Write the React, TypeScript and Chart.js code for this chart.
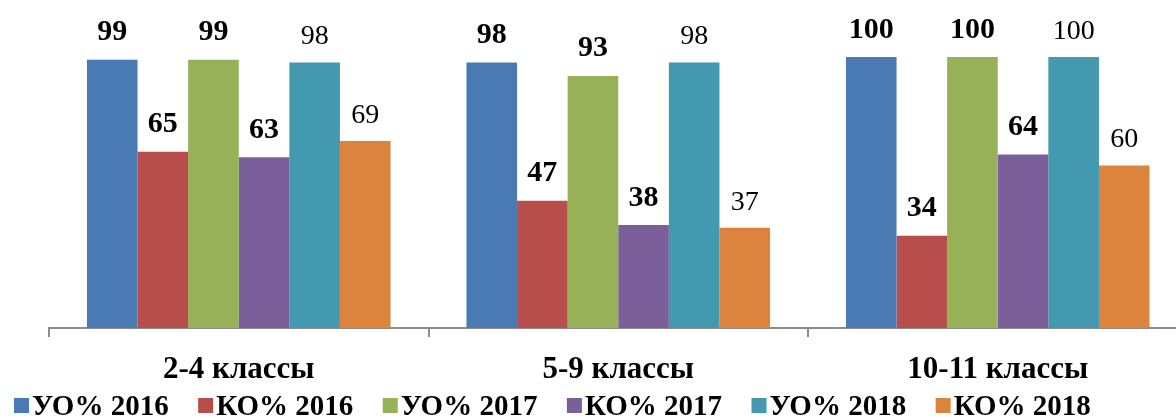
import React, { useEffect, useRef } from "react";
import { Chart, registerables } from "chart.js";

Chart.register(...registerables);

const categories = ["2-4 классы", "5-9 классы", "10-11 классы"];
const seriesNames = ["УО% 2016", "КО% 2016", "УО% 2017", "КО% 2017", "УО% 2018", "КО% 2018"];
const uo2016 = [99, 98, 100];
const ko2016 = [65, 47, 34];
const uo2017 = [99, 93, 100];
const ko2017 = [63, 38, 64];
const uo2018 = [98, 98, 100];
const ko2018 = [69, 37, 60];
const seriesValues = [uo2016, ko2016, uo2017, ko2017, uo2018, ko2018];
const seriesColors = ["#4A7AB4", "#B84E4B", "#96B157", "#7B5F9A", "#4299B0", "#DC833E"];
const boldLabels = [true, true, true, true, false, false];

const FONT = "'Liberation Serif', 'Times New Roman', serif";

const valueLabels = {
  id: "valueLabels",
  afterDatasetsDraw(chart: any) {
    const ctx = chart.ctx;
    chart.data.datasets.forEach((ds: any, i: number) => {
      const meta = chart.getDatasetMeta(i);
      const bold = boldLabels[i];
      ctx.save();
      ctx.font = bold ? `bold 30px ${FONT}` : `28px ${FONT}`;
      ctx.fillStyle = "#000";
      ctx.textAlign = "center";
      ctx.textBaseline = "alphabetic";
      meta.data.forEach((el: any, j: number) => {
        ctx.fillText(String(ds.data[j]), el.x, el.y - (bold ? 19.5 : 18));
      });
      ctx.restore();
    });
  },
};

const customLegend = {
  id: "customLegend",
  afterDraw(chart: any) {
    const ctx = chart.ctx;
    ctx.save();
    ctx.font = `bold 29px ${FONT}`;
    ctx.textAlign = "left";
    ctx.textBaseline = "alphabetic";
    let x = 14;
    const boxTop = 398;
    const box = 15;
    const baseline = 415;
    chart.data.datasets.forEach((ds: any) => {
      ctx.fillStyle = ds.backgroundColor;
      ctx.fillRect(x, boxTop, box, box);
      x += box + 3;
      ctx.fillStyle = "#000";
      ctx.fillText(ds.label, x, baseline);
      x += ctx.measureText(ds.label).width + 29.5;
    });
    ctx.restore();
  },
};

export default function App() {
  const canvasRef = useRef<HTMLCanvasElement | null>(null);

  useEffect(() => {
    const canvas = canvasRef.current;
    if (!canvas) return;
    const chart = new Chart(canvas, {
      type: "bar",
      data: {
        labels: categories,
        datasets: seriesNames.map((name, i) => ({
          label: name,
          data: seriesValues[i],
          backgroundColor: seriesColors[i],
          borderWidth: 0,
          categoryPercentage: 0.8,
          barPercentage: 1.0,
        })),
      },
      options: {
        responsive: false,
        animation: false,
        devicePixelRatio: 1,
        layout: { padding: { left: 49, top: 57, right: 12.5, bottom: 14.8 } },
        plugins: {
          legend: { display: false },
          tooltip: { enabled: false },
        },
        scales: {
          x: {
            grid: {
              display: true,
              drawOnChartArea: false,
              drawTicks: true,
              tickLength: 9,
              color: "#8c8c8c",
              lineWidth: 2,
              offset: true,
            },
            border: { display: true, color: "#8c8c8c", width: 2 },
            ticks: {
              font: { family: FONT, size: 31, weight: "bold" },
              color: "#000",
              padding: 14,
            },
          },
          y: { display: false, min: 0, max: 100 },
        },
      },
      plugins: [valueLabels, customLegend],
    });
    return () => chart.destroy();
  }, []);

  return (
    <div style={{ position: "absolute", left: 0, top: 0, width: 1176, height: 417, overflow: "hidden", background: "#fff" }}>
      <canvas ref={canvasRef} width={1200} height={417} style={{ display: "block" }} />
    </div>
  );
}
